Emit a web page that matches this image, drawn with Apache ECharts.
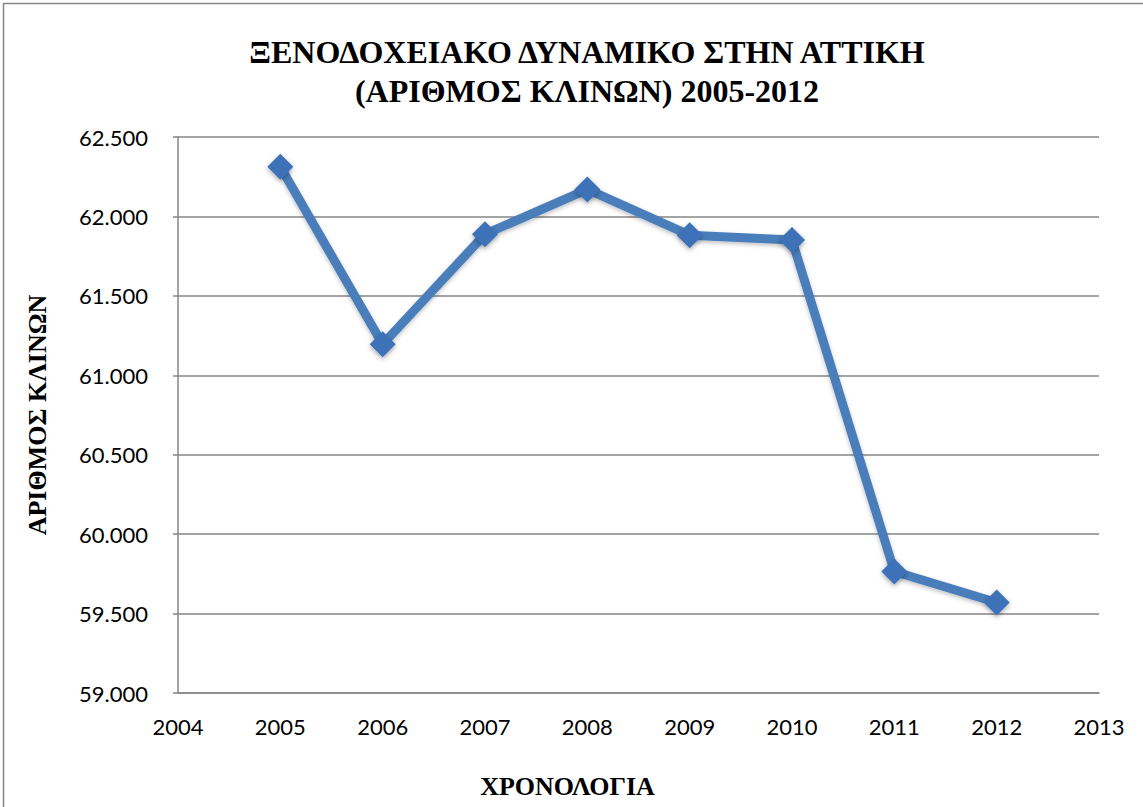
<!DOCTYPE html>
<html>
<head>
<meta charset="utf-8">
<script src="https://cdn.jsdelivr.net/npm/echarts@6/dist/echarts.min.js"></script>
<style>
html,body{margin:0;padding:0;background:#fff;}
#chart{width:1143px;height:807px;}
</style>
</head>
<body>
<div id="chart"></div>
<script>
const years = [2005, 2006, 2007, 2008, 2009, 2010, 2011, 2012];
const beds = [62313, 61195, 61888, 62170, 61882, 61851, 59765, 59570];
const titleLines = ['ΞΕΝΟΔΟΧΕΙΑΚΟ ΔΥΝΑΜΙΚΟ ΣΤΗΝ ΑΤΤΙΚΗ', '(ΑΡΙΘΜΟΣ ΚΛΙΝΩΝ) 2005-2012'];
const xAxisTitle = 'ΧΡΟΝΟΛΟΓΙΑ';
const yAxisTitle = 'ΑΡΙΘΜΟΣ ΚΛΙΝΩΝ';

const seriesData = years.map((y, i) => [y, beds[i]]);
const fmtThousands = v => {
  const s = String(Math.round(v));
  return s.replace(/\B(?=(\d{3})+(?!\d))/g, '.');
};

const chart = echarts.init(document.getElementById('chart'), null, {renderer: 'svg'});
const serif = '"Liberation Serif", "Times New Roman", serif';
const sans = 'Lato, "Open Sans", sans-serif';

chart.setOption({
  animation: false,
  backgroundColor: '#ffffff',
  title: {
    text: titleLines.join('\n'),
    left: 582,
    top: 27,
    textAlign: 'center',
    textStyle: {
      fontFamily: serif,
      fontWeight: 'bold',
      fontSize: 32,
      lineHeight: 39,
      color: '#000'
    }
  },
  graphic: [{
    type: 'rect',
    silent: true,
    shape: {x: 3.5, y: 3.5, width: 1160, height: 820},
    style: {fill: 'none', stroke: '#868686', lineWidth: 1.5},
    z: -1
  }],
  grid: {left: 178, right: 44, top: 137, bottom: 114, outerBoundsMode: 'none'},
  xAxis: {
    type: 'value',
    min: 2004,
    max: 2013,
    interval: 1,
    name: xAxisTitle,
    nameLocation: 'middle',
    nameGap: 80,
    nameTextStyle: {
      fontFamily: serif,
      fontWeight: 'bold',
      fontSize: 26,
      color: '#000',
      padding: [0, 142, 0, 0]
    },
    axisLine: {show: true, lineStyle: {color: '#868686', width: 1.5}},
    axisTick: {show: false},
    splitLine: {show: false},
    axisLabel: {
      formatter: v => String(v),
      fontFamily: sans,
      fontSize: 22,
      color: '#000',
      margin: 22
    }
  },
  yAxis: {
    type: 'value',
    min: 59000,
    max: 62500,
    interval: 500,
    name: yAxisTitle,
    nameLocation: 'middle',
    nameRotate: 90,
    nameGap: 128,
    nameTextStyle: {
      fontFamily: serif,
      fontWeight: 'bold',
      fontSize: 26,
      color: '#000'
    },
    axisLine: {show: true, lineStyle: {color: '#868686', width: 1.5}},
    axisTick: {show: true, length: 5, lineStyle: {color: '#868686', width: 1.5}},
    splitLine: {show: true, lineStyle: {color: '#868686', width: 1.5}},
    axisLabel: {
      formatter: v => fmtThousands(v),
      fontFamily: sans,
      fontSize: 22,
      color: '#000',
      margin: 30
    }
  },
  series: [{
    type: 'line',
    data: seriesData,
    symbol: 'diamond',
    symbolSize: 26,
    lineStyle: {
      color: '#4a7ebb',
      width: 9,
      shadowColor: 'rgba(0,0,0,0.25)',
      shadowBlur: 4,
      shadowOffsetY: 2
    },
    itemStyle: {
      color: '#3c71b8',
      borderWidth: 0,
      shadowColor: 'rgba(0,0,0,0.35)',
      shadowBlur: 5,
      shadowOffsetY: 2
    }
  }]
});
</script>
</body>
</html>
